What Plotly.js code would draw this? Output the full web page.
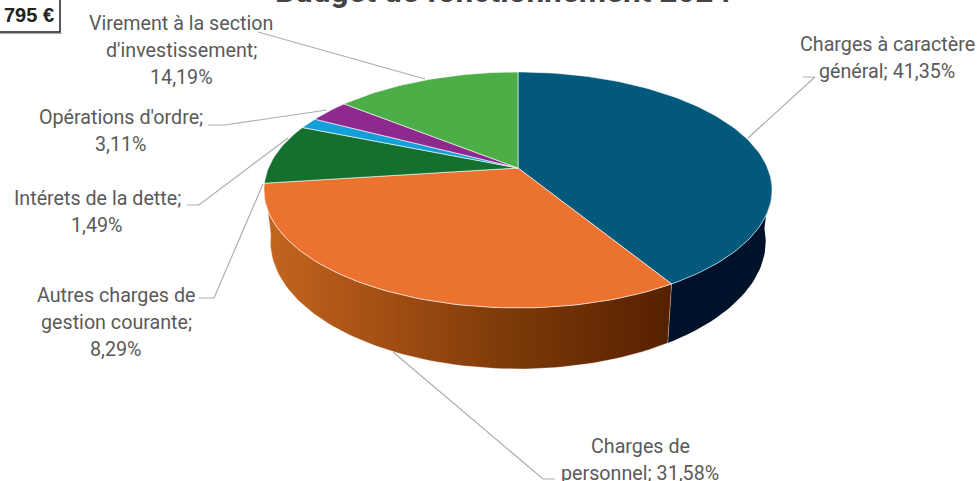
<!DOCTYPE html>
<html><head><meta charset="utf-8">
<script src="https://cdn.plot.ly/plotly-3.0.1.min.js"></script>
<style>html,body{margin:0;padding:0;background:#fff}#c{width:979px;height:481px}</style>
</head><body><div id="c"></div><script>
// Data
const categories = ["Charges à caractère général","Charges de personnel","Autres charges de gestion courante","Intérets de la dette","Opérations d'ordre","Virement à la section d'investissement"];
const shares = [41.35,31.58,8.29,1.49,3.11,14.19];
const sliceColors = ["#02597c","#ec722f","#13702f","#159fd8","#8e2a8e","#4cae47"];
const labelLines = [
  ["Charges à caractère","général; "],
  ["Charges de","personnel; "],
  ["Autres charges de","gestion courante;",""],
  ["Intérets de la dette;",""],
  ["Opérations d'ordre;",""],
  ["Virement à la section","d'investissement;",""]
];
const labelCentres = [[887,44],[640,446],[116,295],[97,198],[121,117],[181,23]];
const lineHeight = 27;
const leaders = [
  [[803,77],[815,77],[748,138]],
  [[555,479],[543,479],[393,352]],
  [[198,298],[214,298],[263,184]],
  [[187,205],[199,205],[288,138]],
  [[208,125],[225,125],[327,110]],
  [[258,32],[425,79]]
];
// Geometry of the tilted disc
const cx=518, cy=168, A=249.6, B=113.9, k=0.186, h0=49.7, shrink=0.975;
function proj(deg,bottom){
  const t=deg*Math.PI/180,u=Math.sin(t),v=Math.cos(t),w=1+k*v;
  const sx=bottom?shrink:1;
  return [cx+sx*A*u/w, cy-B*v/w+(bottom?h0/w:0)];
}
function arc(a,b,bottom){
  const n=Math.max(2,Math.ceil(Math.abs(b-a)/1.5)),o=[];
  for(let i=0;i<=n;i++)o.push(proj(a+(b-a)*i/n,bottom));
  return o;
}
const total=shares.reduce((a,b)=>a+b,0);
const cum=[0];shares.forEach(s=>cum.push(cum[cum.length-1]+s/total*360));
const traces=[];
function side(a,b,extra){
  const pts=arc(a,b,false).concat(arc(b,a,true));pts.push(pts[0]);
  traces.push(Object.assign({type:"scatter",mode:"lines",x:pts.map(p=>p[0]),y:pts.map(p=>p[1]),fill:"toself",line:{width:0.6,color:"rgba(255,255,255,0.6)"},hoverinfo:"skip",showlegend:false},extra));
}
side(95,cum[1],{fillcolor:"#001229",line:{width:0}});
side(cum[1],cum[2],{fillcolor:"#8a4310",fillgradient:{type:"horizontal",colorscale:[[0,"#c4661f"],[0.3,"#a34e14"],[0.6,"#7c3a08"],[1,"#562000"]]}});
shares.forEach((s,i)=>{
  const pts=[[cx,cy]].concat(arc(cum[i],cum[i+1],false));pts.push([cx,cy]);
  traces.push({type:"scatter",mode:"lines",name:categories[i],x:pts.map(p=>p[0]),y:pts.map(p=>p[1]),fill:"toself",fillcolor:sliceColors[i],line:{width:0.8,color:"rgba(255,255,255,0.75)"},hovertemplate:categories[i]+": "+s.toFixed(2).replace(".",",")+"%<extra></extra>",showlegend:false});
});
leaders.forEach(l=>traces.push({type:"scatter",mode:"lines",x:l.map(p=>p[0]),y:l.map(p=>p[1]),line:{width:1.2,color:"#adadad"},hoverinfo:"skip",showlegend:false}));
const font={family:"Roboto, sans-serif",size:19.7,color:"#5a5a5a"};
const ann=[];
labelLines.forEach((lines,i)=>lines.forEach((ln,j)=>{
  const last=j===lines.length-1;
  ann.push({x:labelCentres[i][0],y:labelCentres[i][1]+j*lineHeight,xref:"x",yref:"y",showarrow:false,font,
    text:last?ln+shares[i].toFixed(2).replace(".",",")+"%":ln,xanchor:"center",yanchor:"middle"});
}));
ann.push({x:2,y:15,xref:"x",yref:"y",showarrow:false,xanchor:"left",yanchor:"middle",text:"<b>795 €</b>",font:{family:"Liberation Sans, sans-serif",size:20,color:"#222"}});
Plotly.newPlot("c",traces,{
  width:979,height:481,margin:{l:0,r:0,t:0,b:0},paper_bgcolor:"#fff",plot_bgcolor:"#fff",showlegend:false,
  title:{text:"<b>Budget de fonctionnement 2024</b>",x:0.514,xanchor:"center",y:1,yanchor:"top",pad:{t:-20},font:{family:"Roboto, sans-serif",size:31.5,color:"#444"}},
  xaxis:{range:[0,979],visible:false,fixedrange:true},
  yaxis:{range:[481,0],visible:false,fixedrange:true},
  annotations:ann,
  shapes:[
    {type:"rect",xref:"x",yref:"y",x0:-3,y0:-3,x1:60,y1:32,line:{color:"#222",width:1.5},fillcolor:"rgba(0,0,0,0)"},
    {type:"line",xref:"x",yref:"y",x0:0,y0:33.5,x1:62,y1:33.5,line:{color:"#aaa",width:1}}
  ]
},{displayModeBar:false});
</script></body></html>
